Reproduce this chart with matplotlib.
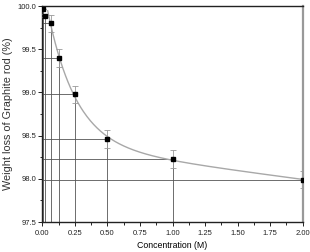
import numpy as np
import matplotlib
matplotlib.use("Agg")
import matplotlib.pyplot as plt

plt.rcParams['font.family'] = ['Liberation Sans', 'DejaVu Sans']

conc = [0.005, 0.02, 0.0625, 0.125, 0.25, 0.5, 1.0, 2.0]
loss = [99.97, 99.89, 99.80, 99.40, 98.98, 98.46, 98.23, 97.99]
err = [0.0, 0.02, 0.1, 0.1, 0.1, 0.1, 0.1, 0.1]

xticks = [0.00, 0.25, 0.50, 0.75, 1.00, 1.25, 1.50, 1.75, 2.00]
yticks = [97.5, 98.0, 98.5, 99.0, 99.5, 100.0]

x = np.array(conc[2:])
y = np.array(loss[2:])

# double exponential decay fit on the points from 0.0625 M on
best = None
for t1 in np.linspace(0.05, 1.0, 80):
    for t2 in np.linspace(0.5, 30, 80):
        A = np.column_stack([np.ones_like(x), np.exp(-x / t1), np.exp(-x / t2)])
        c, _, _, _ = np.linalg.lstsq(A, y, rcond=None)
        r = np.sum((A @ c - y) ** 2)
        if best is None or r < best[0]:
            best = (r, t1, t2, c)
_, t1, t2, c = best
xf = np.linspace(0.04, 2.0, 300)
yf = c[0] + c[1] * np.exp(-xf / t1) + c[2] * np.exp(-xf / t2)

fig = plt.figure(figsize=(3.1, 2.52), dpi=100)
ax = fig.add_axes([0.137, 0.119, 0.839, 0.857])

ax.plot(xf, yf, color="#a8a8a8", lw=1.0, zorder=2)
for xi, yi in zip(conc, loss):
    ax.plot([0, xi], [yi, yi], color="#555555", lw=0.6, zorder=1)
    ax.plot([xi, xi], [97.5, yi], color="#555555", lw=0.6, zorder=1)
ax.errorbar(conc, loss, yerr=err, fmt="none", ecolor="#999999", elinewidth=0.6,
            capsize=2, capthick=0.6, zorder=3)
ax.plot(conc, loss, "s", color="black", ms=3.5, zorder=4)

ax.set_xlim(0, 2.0)
ax.set_ylim(97.5, 100.0)
ax.set_xticks(xticks)
ax.set_xticklabels(["%.2f" % v for v in xticks])
ax.set_yticks(yticks)
ax.set_yticklabels(["%.1f" % v for v in yticks])
ax.set_xticks(np.arange(0.125, 2.0, 0.25), minor=True)
ax.set_yticks(np.arange(97.75, 100.0, 0.5), minor=True)
ax.tick_params(axis="both", which="major", labelsize=5.5, direction="out",
               length=3, width=0.7, colors="#222222")
ax.tick_params(axis="x", which="major", pad=2.5)
ax.tick_params(axis="y", which="major", pad=1.5)
ax.tick_params(axis="both", which="minor", direction="out", length=1.8, width=0.6)

for s in ["left", "bottom", "top"]:
    ax.spines[s].set_linewidth(1.0)
    ax.spines[s].set_color("#222222")
ax.spines["right"].set_linewidth(1.6)
ax.spines["right"].set_color("#999999")

ax.set_xlabel("Concentration (M)", fontsize=6.3, labelpad=3)
ax.set_ylabel("Weight loss of Graphite rod (%)", fontsize=7.8, labelpad=3,
              color="#333333")

fig.savefig("out.png", dpi=100)
